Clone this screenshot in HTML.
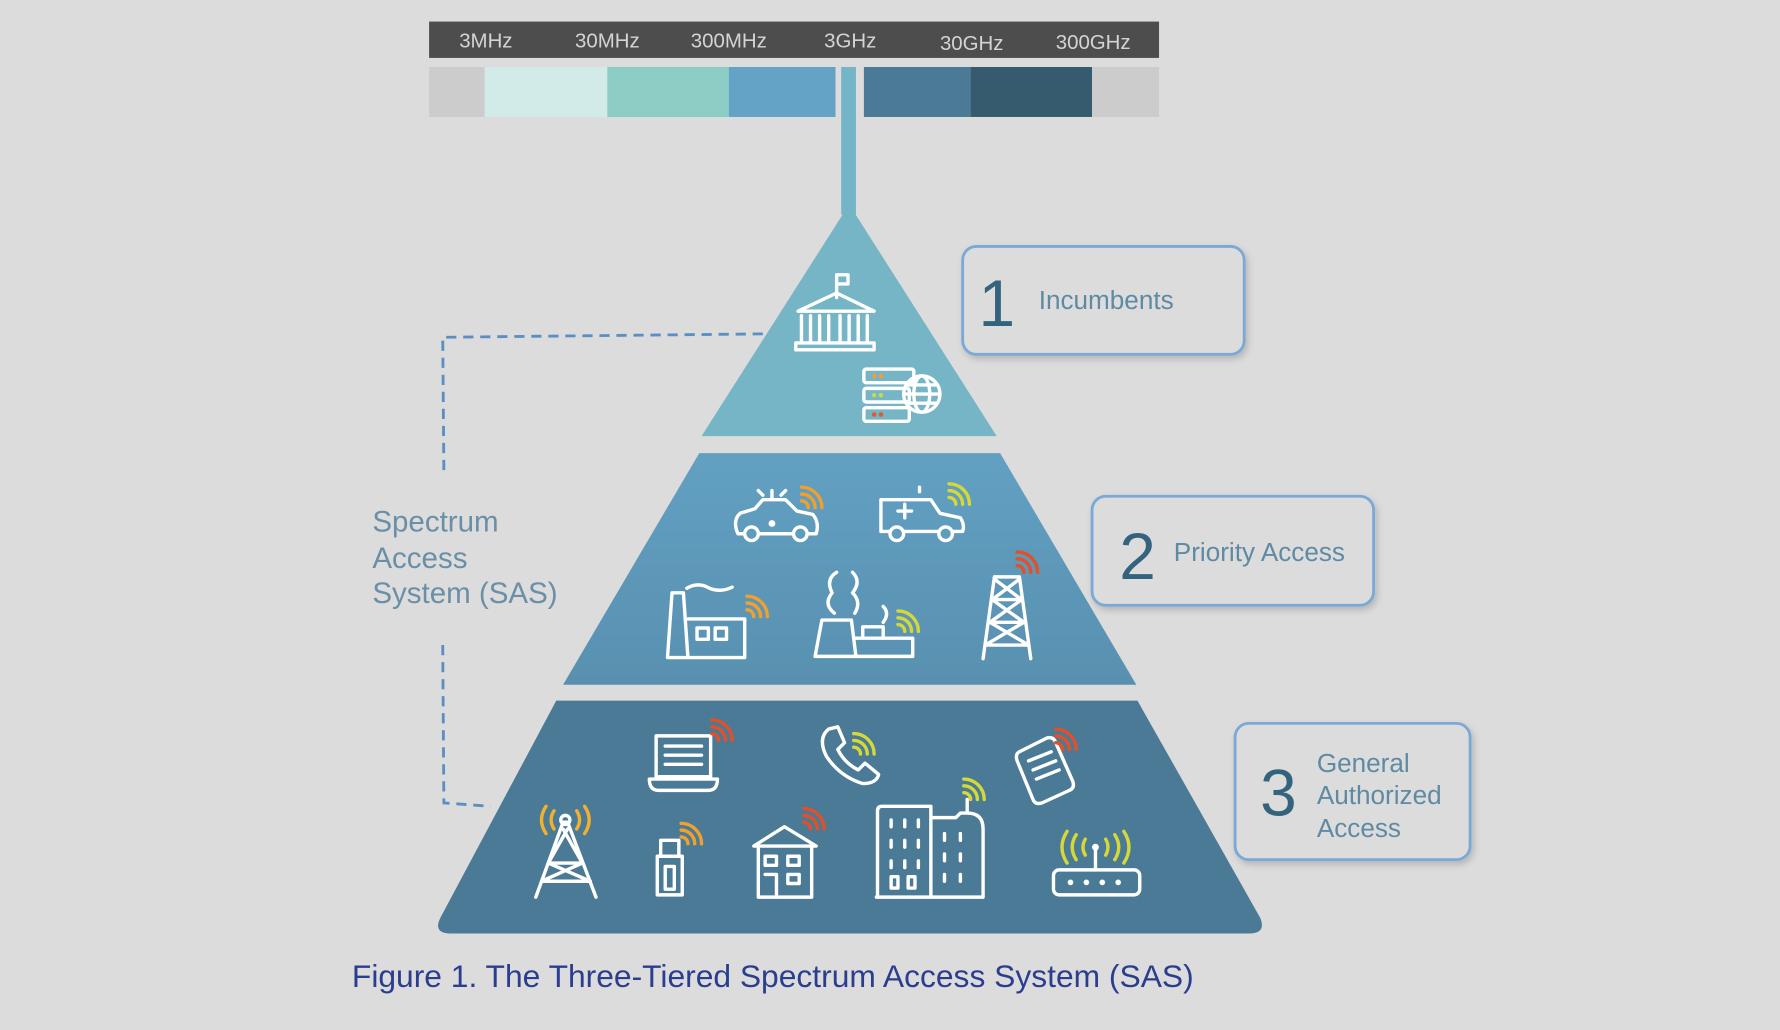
<!DOCTYPE html>
<html><head><meta charset="utf-8"><style>
html,body{margin:0;padding:0;background:#dcdcdc;width:1780px;height:1030px;overflow:hidden}
svg{display:block}
</style></head><body>
<svg width="1780" height="1030" viewBox="0 0 1568 907" preserveAspectRatio="none" xmlns="http://www.w3.org/2000/svg" font-family="Liberation Sans, DejaVu Sans, sans-serif">
<defs>
<symbol id="wf" overflow="visible"><path d="M0 -6 A6 6 0 0 1 6 0 M0 -12 A12 12 0 0 1 12 0 M0 -18 A18 18 0 0 1 18 0" fill="none" stroke-width="3" stroke-linecap="round"/></symbol>
<filter id="sh" x="-10%" y="-10%" width="120%" height="130%"><feDropShadow dx="2" dy="3" stdDeviation="3" flood-color="#000" flood-opacity="0.18"/></filter>
<linearGradient id="g2" x1="0" y1="0" x2="0" y2="1"><stop offset="0" stop-color="#62a0c2"/><stop offset="1" stop-color="#5990b0"/></linearGradient>
</defs>
<rect width="1568" height="907" fill="#dcdcdc"/>
<!-- spectrum bar -->
<rect x="378" y="19" width="643" height="32" fill="#4d4d4d"/>
<g fill="#d4d4d4" font-size="18" text-anchor="middle">
<text x="428" y="42">3MHz</text><text x="535" y="42">30MHz</text><text x="642" y="42">300MHz</text><text x="749" y="42">3GHz</text><text x="856" y="44">30GHz</text><text x="963" y="43">300GHz</text>
</g>
<rect x="378" y="59" width="49" height="44" fill="#cccccc"/>
<rect x="427" y="59" width="108" height="44" fill="#d2ebe8"/>
<rect x="535" y="59" width="107" height="44" fill="#8ccdc6"/>
<rect x="642" y="59" width="94" height="44" fill="#64a3c6"/>
<rect x="761" y="59" width="94" height="44" fill="#4a7a95"/>
<rect x="855" y="59" width="107" height="44" fill="#365a6e"/>
<rect x="962" y="59" width="59" height="44" fill="#cccccc"/>
<rect x="741" y="59" width="13" height="130" fill="#74b5c7"/>
<!-- pyramid -->
<path d="M748 180 L878 384 L618 384 Z" fill="#75b5c6"/>
<path d="M616 399 L881 399 L1001 603 L496 603 Z" fill="url(#g2)"/>
<path d="M490 617 L1002 617 L1110 808 Q1116 822 1100 822 L397 822 Q381 822 388 808 Z" fill="#4a7a95"/>
<!-- dashed SAS line -->
<path d="M672 294 L390 297 L391 415 M390 568 L391 707 L432 710" fill="none" stroke="#5b8fc4" stroke-width="2.5" stroke-dasharray="9 6"/>
<g fill="#6a8fa6" font-size="26"><text x="328" y="468">Spectrum</text><text x="328" y="500">Access</text><text x="328" y="531">System (SAS)</text></g>
<!-- boxes -->
<g fill="#dcdcdc" stroke="#7aa9d6" stroke-width="2.5" filter="url(#sh)">
<rect x="848" y="217" width="248" height="95" rx="12"/>
<rect x="962" y="437" width="248" height="96" rx="12"/>
<rect x="1088" y="637" width="207" height="120" rx="12"/>
</g>
<g fill="#34637d"><text x="862" y="287" font-size="58">1</text><text x="986" y="510" font-size="58">2</text><text x="1110" y="718" font-size="58">3</text></g>
<g fill="#5f8aa3" font-size="23"><text x="915" y="272">Incumbents</text><text x="1034" y="494">Priority Access</text>
<text x="1160" y="680">General</text><text x="1160" y="708">Authorized</text><text x="1160" y="737">Access</text></g>
<text x="310" y="869" font-size="28" fill="#2a3d8f">Figure 1. The Three-Tiered Spectrum Access System (SAS)</text>
<!-- icons -->
<g fill="none" stroke="#fff" stroke-width="3" stroke-linejoin="round" stroke-linecap="round">
<!-- bank -->
<path d="M737 262 L737 242 M737 242 h10 v8 h-10 M703 274 L737 258 L770 274 Z M706 278 v24 M714 278 v24 M722 278 v24 M730 278 v24 M740 278 v24 M748 278 v24 M756 278 v24 M764 278 v24 M701 302 h69 v6 h-69 Z"/>
<!-- server -->
<rect x="761" y="325" width="44" height="12" rx="2"/><rect x="761" y="342" width="40" height="12" rx="2"/><rect x="761" y="359" width="40" height="12" rx="2"/>
<circle cx="812" cy="347" r="16"/><ellipse cx="812" cy="347" rx="7" ry="16"/><path d="M796 347 h32 M799 339 h26 M799 355 h26"/>
<!-- police car -->
<path d="M650 470 Q645 458 652 452 L665 448 L672 440 L692 440 L702 450 L716 453 Q722 460 719 470 Z M680 440 v-8 M668 432 l4 4 M692 432 l-4 4"/>
<circle cx="662" cy="470" r="6" fill="#5f9dbd"/><circle cx="705" cy="470" r="6" fill="#5f9dbd"/>
<!-- ambulance -->
<path d="M776 468 V440 H820 L828 452 L846 456 Q850 462 848 468 Z M797 444 v12 M791 450 h12 M810 433 v-4"/>
<circle cx="790" cy="470" r="6" fill="#5f9dbd"/><circle cx="833" cy="470" r="6" fill="#5f9dbd"/>
<!-- factory -->
<path d="M588 579 L592 522 L602 522 L606 579 Z M606 579 H656 V545 H606 M614 553 h10 v10 h-10 Z M630 553 h10 v10 h-10 Z M605 518 q10 -6 20 0 q10 4 20 -1"/>
<!-- nuclear -->
<path d="M718 578 L724 546 L750 546 L754 578 Z M754 578 H804 V562 H754 M760 562 V552 H778 V562 M735 540 q-10 -8 -2 -18 q-6 -12 4 -18 M753 540 q6 -10 -2 -18 q8 -10 0 -18 M778 548 q6 -8 0 -14"/>
<!-- tower -->
<path d="M866 580 L876 508 H898 L908 580 M874 528 H900 M872 548 H902 M868 568 H906 M876 510 L900 528 M898 510 L874 528 M874 528 L902 548 M900 528 L872 548 M872 548 L906 568 M902 548 L868 568"/>
<!-- laptop -->
<path d="M578 648 H626 V684 H578 Z M586 657 h32 M586 665 h32 M586 673 h32 M572 686 H632 Q632 696 624 696 H580 Q572 696 572 686 Z"/>
<!-- phone handset -->
<path d="M730 642 Q720 650 728 666 Q740 684 760 690 Q772 690 774 682 L762 672 L756 678 Q744 672 738 660 L744 654 L738 640 Z"/>
<!-- mobile -->
<path d="M898 662 L922 650 Q928 648 930 654 L945 688 Q947 694 942 696 L918 707 Q912 709 910 704 L896 670 Q894 664 898 662 Z M906 670 l20 -8 M910 678 l20 -8 M913 686 l20 -8"/>
<!-- bottom tower -->
<path d="M472 790 L496 724 L500 724 L525 790 M483 760 H513 M477 776 H520 M496 730 L513 760 M500 730 L483 760 M483 760 L520 776 M513 760 L477 776"/>
<circle cx="498" cy="722" r="4"/>
<!-- usb -->
<path d="M582 740 h16 v14 h-16 Z M579 754 h22 v34 h-22 Z M586 763 h8 v20 h-8 Z"/>
<!-- house -->
<path d="M664 745 L691 728 L719 745 Z M668 745 V790 H715 V745 M674 754 h10 v8 h-10 Z M694 754 h10 v8 h-10 Z M674 770 h10 v20 M694 770 h10 v8 h-10 Z"/>
<!-- building -->
<path d="M773 790 V714 Q773 710 777 710 H820 V790 M820 790 V720 H842 L846 716 H852 V704 M852 716 Q866 716 866 730 V790 H772 M785 722 v6 M797 722 v6 M809 722 v6 M785 740 v6 M797 740 v6 M809 740 v6 M785 758 v6 M797 758 v6 M809 758 v6 M785 772 h6 v10 h-6 Z M800 772 h6 v10 h-6 Z M832 734 v6 M846 734 v6 M832 752 v6 M846 752 v6 M832 770 v6 M846 770 v6"/>
<!-- router -->
<rect x="928" y="766" width="76" height="22" rx="5"/><path d="M965 766 V748"/>
</g>
<g fill="#fff"><circle cx="943" cy="777" r="2.5"/><circle cx="957" cy="777" r="2.5"/><circle cx="971" cy="777" r="2.5"/><circle cx="985" cy="777" r="2.5"/><circle cx="965" cy="746" r="3"/><circle cx="680" cy="461" r="3"/></g>
<!-- server leds -->
<g><circle cx="770" cy="331" r="2" fill="#f0a030"/><circle cx="776" cy="331" r="2" fill="#f0a030"/><circle cx="770" cy="348" r="2" fill="#c9d84a"/><circle cx="776" cy="348" r="2" fill="#c9d84a"/><circle cx="770" cy="365" r="2" fill="#e05a30"/><circle cx="776" cy="365" r="2" fill="#e05a30"/></g>
<!-- wifi -->
<use href="#wf" x="706" y="447" stroke="#f0a030"/>
<use href="#wf" x="836" y="444" stroke="#d4d838"/>
<use href="#wf" x="658" y="543" stroke="#f0a030"/>
<use href="#wf" x="791" y="556" stroke="#d4d838"/>
<use href="#wf" x="896" y="504" stroke="#e0502a"/>
<use href="#wf" x="627" y="652" stroke="#e0502a"/>
<use href="#wf" x="752" y="664" stroke="#d4d838"/>
<use href="#wf" x="930" y="660" stroke="#e0502a"/>
<use href="#wf" x="600" y="743" stroke="#f0a030"/>
<use href="#wf" x="708" y="730" stroke="#e0502a"/>
<use href="#wf" x="849" y="704" stroke="#d4d838"/>
<!-- radiating arcs -->
<g fill="none" stroke="#f0b030" stroke-width="3" stroke-linecap="round">
<path d="M488 714 q-5 8 0 16 M481 710 q-8 12 0 24 M508 714 q5 8 0 16 M515 710 q8 12 0 24"/>
</g>
<g fill="none" stroke="#d4d838" stroke-width="3" stroke-linecap="round">
<path d="M956 739 q-4 7 0 14 M948 735 q-7 11 0 22 M940 732 q-9 14 0 28 M974 739 q4 7 0 14 M982 735 q7 11 0 22 M990 732 q9 14 0 28"/>
</g>
</svg>
</body></html>
